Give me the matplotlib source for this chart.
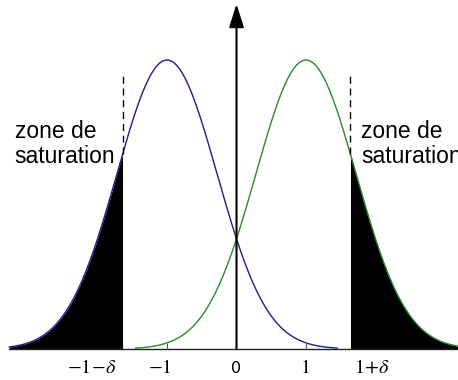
import numpy as np
import matplotlib
matplotlib.use("Agg")
import matplotlib.pyplot as plt

# Model parameters of the two class-conditional densities
centers = [-1.0, 1.0]
sigma = 0.72
delta = 0.64
curve_spans = [(-3.27, 1.45), (-1.45, 3.27)]
curve_colors = ["#1c1c96", "#2b8a2b"]

# Axis annotations
tick_positions = [-2.08, -1.10, 0.0, 0.99, 1.95]
tick_labels = [r"$-1\!-\!\delta$", r"$-1$", "0", r"$1$", r"$1\!+\!\delta$"]
zone_text = "zone de\nsaturation"

plt.rcParams["mathtext.fontset"] = "stix"

fig = plt.figure(figsize=(4.58, 3.80), dpi=100)
ax = fig.add_axes([0, 0, 1, 1])
ax.set_xlim(-3.403, 3.187)
ax.set_ylim(-0.1073, 1.2076)
ax.axis("off")


def density(x, mu):
    return np.exp(-((x - mu) ** 2) / (2 * sigma ** 2))


bound = 1 + delta

# Saturated tails (black areas)
xl = np.linspace(curve_spans[0][0], -bound, 200)
ax.fill_between(xl, 0, density(xl, centers[0]), color="black", lw=0, zorder=2)
xr = np.linspace(bound, curve_spans[1][1], 200)
ax.fill_between(xr, 0, density(xr, centers[1]), color="black", lw=0, zorder=2)

# Gaussian curves
for mu, (a, b), col in zip(centers, curve_spans, curve_colors):
    x = np.linspace(a, b, 600)
    ax.plot(x, density(x, mu), color=col, lw=1.0, zorder=3)

# Dashed saturation limits
for xb, mu in [(-bound, centers[0]), (bound, centers[1])]:
    ax.plot([xb, xb], [density(xb, mu), 0.958], color="black", lw=1.0,
            ls=(0, (5, 3.5)), zorder=3)

# Horizontal axis
ax.plot([-3.27, 3.187], [0, 0], color="#222222", lw=1.0, zorder=4)
for t in [-1, 1]:
    ax.plot([t, t], [0, 0.017], color="#555555", lw=0.8, zorder=4)

# Vertical axis with arrow
ax.annotate("", xy=(0, 1.194), xytext=(0, 0),
            arrowprops=dict(arrowstyle="-|>,head_length=0.95,head_width=0.3",
                            mutation_scale=15, lw=1.5, color="black",
                            shrinkA=0, shrinkB=0),
            zorder=5)

# Tick labels
for pos, lab in zip(tick_positions, tick_labels):
    if lab == "0":
        ax.text(pos, -0.083, lab, ha="center", va="baseline",
                fontsize=11.5, family="DejaVu Sans")
    else:
        ax.text(pos, -0.083, lab, ha="center", va="baseline", fontsize=14.5)

# Saturation zone labels
for x0 in (-3.19, 1.79):
    ax.text(x0, 0.644, zone_text, ha="left", va="baseline", fontsize=16.5,
            family="Liberation Sans", linespacing=1.08)

fig.savefig("out.png", dpi=100)
